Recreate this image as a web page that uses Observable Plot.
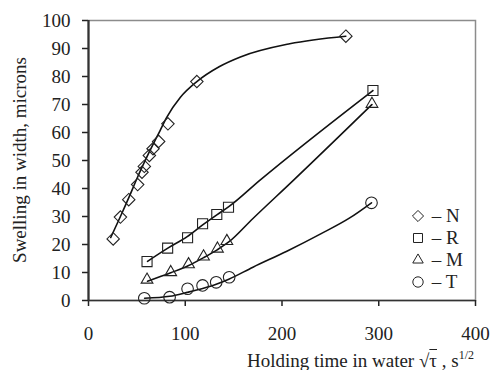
<!DOCTYPE html>
<html><head><meta charset="utf-8">
<script src="https://cdn.jsdelivr.net/npm/d3@7"></script>
<script src="https://cdn.jsdelivr.net/npm/@observablehq/plot@0.6"></script>
<style>
html,body{margin:0;background:#fff;font-family:"Liberation Serif","Times New Roman",serif}
#chart{position:relative;width:491px;height:370px}
#chart svg text{font-family:"Liberation Serif","Times New Roman",serif !important}
#legend{position:absolute;left:410px;top:205px;font-family:"Liberation Serif","Times New Roman",serif;font-size:19px;color:#222;line-height:21.9px}
#legend .row{display:flex;align-items:center;height:21.9px;white-space:pre}
#legend svg{width:16px;height:16px;margin-right:1px}
.lab{position:absolute;font-family:"Liberation Serif","Times New Roman",serif;font-size:19px;line-height:19px;color:#222;white-space:pre}
#ylab{left:0;top:0;transform-origin:0 0;transform:translate(10px,160px) rotate(-90deg) translate(-50%,0)}
#xlab{right:17px;top:350.6px}
#xlab .rad{text-decoration:overline}
#xlab sup{font-size:12px;line-height:0;vertical-align:baseline;position:relative;top:-8px}
</style>
</head><body><div id="chart"><div id="legend"></div><div id="ylab" class="lab"></div><div id="xlab" class="lab"></div></div>
<script>
// Measured points
const seriesNames = ["N", "R", "M", "T"];
const nX = [25.5, 33, 41.6, 50.8, 55.3, 57.7, 62.9, 66.7, 72.5, 82.1, 112, 266];
const nY = [22, 29.8, 36, 41.4, 45.8, 47.9, 51.8, 54.2, 56.8, 63.1, 78.2, 94.4];
const rX = [60.5, 81.8, 102.4, 117.9, 132.6, 144.7, 294];
const rY = [13.9, 18.7, 22.4, 27.4, 30.7, 33.3, 75];
const mX = [60.5, 85, 103.4, 118.9, 133.3, 143, 293];
const mY = [7.4, 10.1, 12.9, 15.7, 18.5, 21.2, 70.2];
const tX = [57.7, 83.8, 102.4, 117.9, 132, 145.4, 292.5];
const tY = [0.8, 1.2, 4.2, 5.4, 6.5, 8.3, 34.9];

// Trend curves
const nFitX = [23, 33, 42, 50, 60, 74, 81, 95, 112, 135, 157, 208, 266];
const nFitY = [22.5, 30, 37, 43.5, 51, 60.7, 65.5, 72.6, 78.2, 83.5, 87, 91.7, 94.4];
const rFitX = [61, 82, 102, 118, 133, 145, 177, 294];
const rFitY = [14, 18.7, 22.8, 27, 30.7, 33.5, 42.9, 75];
const mFitX = [61, 85, 103, 119, 133, 145, 170, 212, 293];
const mFitY = [6.9, 9.9, 12.4, 15.3, 18.1, 20.9, 29.3, 43, 70];
const tFitX = [58, 84, 102, 118, 132, 145, 170, 205, 240, 270, 292.5];
const tFitY = [0.8, 1.5, 2.9, 4.3, 5.8, 7.6, 11.9, 17.6, 23.8, 29.5, 34.9];

const xTicks = [0, 100, 200, 300, 400];
const yTicks = [0, 10, 20, 30, 40, 50, 60, 70, 80, 90, 100];
const xLabel = "Holding time in water ";
const yLabel = "Swelling in width, microns";
const legendDash = "\u2013";

const symbolNames = ["diamond2", "square2", "triangle2", "circle"];
const symbolR = [5.6, 6.4, 5.6, 5.8];
const d3Symbols = [d3.symbolDiamond2, d3.symbolSquare2, d3.symbolTriangle2, d3.symbolCircle];

const ptsX = [nX, rX, mX, tX], ptsY = [nY, rY, mY, tY];
const fitX = [nFitX, rFitX, mFitX, tFitX], fitY = [nFitY, rFitY, mFitY, tFitY];

const FONT = "Liberation Serif";

const marks = [
  Plot.frame({stroke: "#8c8c8c", strokeWidth: 1.5}),
  Plot.axisX({ticks: xTicks, tickSize: 6, tickPadding: 20, label: null, strokeWidth: 1.5, fontSize: 19}),
  Plot.axisY({ticks: yTicks, tickSize: 6, tickPadding: 12, label: null, strokeWidth: 1.5, fontSize: 19}),
  Plot.ruleX([0], {stroke: "#333", strokeWidth: 2.2}),
  Plot.ruleY([0], {stroke: "#333", strokeWidth: 1.6})
];
seriesNames.forEach((s, i) => {
  const fit = fitX[i].map((x, j) => ({x, y: fitY[i][j]}));
  marks.push(Plot.line(fit, {x: "x", y: "y", curve: "monotone-x", stroke: "#111", strokeWidth: 1.6}));
});
seriesNames.forEach((s, i) => {
  const pts = ptsX[i].map((x, j) => ({x, y: ptsY[i][j]}));
  marks.push(Plot.dot(pts, {x: "x", y: "y", symbol: () => symbolNames[i], r: symbolR[i], stroke: "#222", strokeWidth: 1.1, fill: "none"}));
});

const chart = Plot.plot({
  width: 491, height: 370,
  marginLeft: 88, marginRight: 16, marginTop: 20, marginBottom: 70,
  style: {fontFamily: FONT, fontSize: "19px", color: "#222", background: "#fff"},
  x: {domain: [0, 400]},
  y: {domain: [0, 100]},
  symbol: {type: "identity"},
  marks
});
const host = document.getElementById("chart");
host.insertBefore(chart, host.firstChild);
d3.select(chart).attr("font-family", FONT);
d3.select(chart).selectAll("g").attr("font-family", FONT);
d3.select(chart).selectAll("text").attr("font-family", FONT).style("font-family", FONT);

// Axis titles (HTML overlay)
d3.select("#ylab").text(yLabel);
const xl = d3.select("#xlab");
xl.append("span").text(xLabel + "\u221A");
xl.append("span").attr("class", "rad").text("\u03C4");
xl.append("span").text(" , s");
xl.append("sup").text("1/2");

// Legend (HTML overlay)
const legend = d3.select("#legend");
seriesNames.forEach((s, i) => {
  const row = legend.append("div").attr("class", "row");
  const sv = row.append("svg").attr("viewBox", "-8 -8 16 16");
  sv.append("path")
    .attr("d", d3.symbol(d3Symbols[i], Math.PI * symbolR[i] * symbolR[i] * 0.8)())
    .attr("fill", "none").attr("stroke", "#222").attr("stroke-width", 1);
  row.append("span").text(" " + legendDash + " " + s);
});
</script>
</body></html>
